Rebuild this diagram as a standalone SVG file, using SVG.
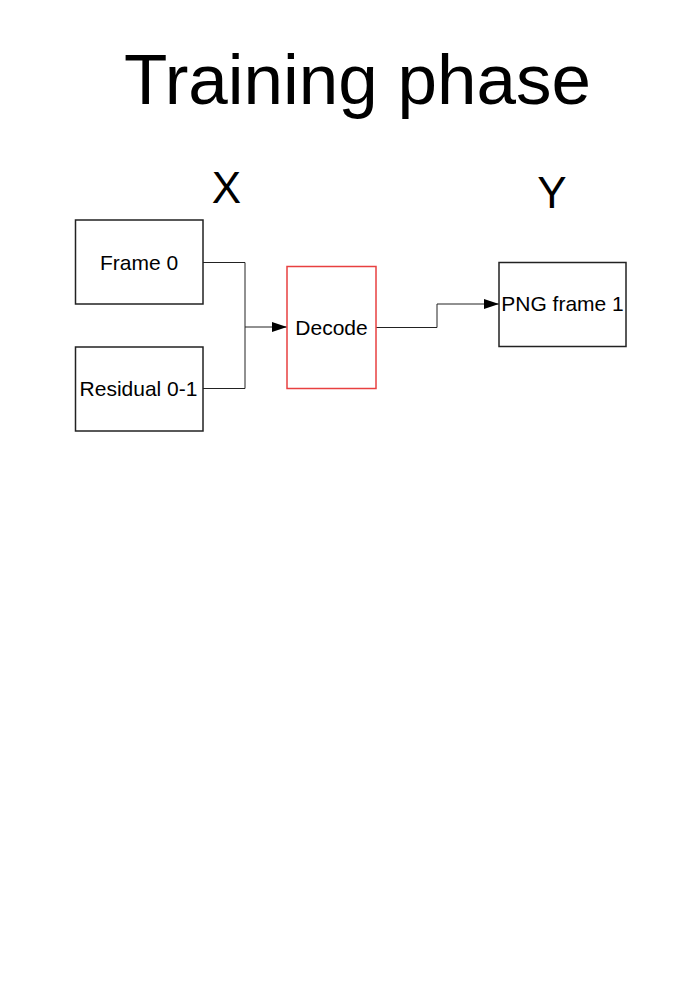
<svg xmlns="http://www.w3.org/2000/svg" width="700" height="990" viewBox="0 0 700 990">
<style>
text{font-family:"Liberation Sans",Arial,sans-serif;fill:#000;text-anchor:middle}
.box{fill:#fff;stroke:#222;stroke-width:1.5}
.red{fill:#fff;stroke:#e84040;stroke-width:1.5}
.lbl{font-size:21px}
.conn{fill:none;stroke:#222;stroke-width:1}
</style>
<defs>
<marker id="arr" markerWidth="15" markerHeight="10" refX="15" refY="5" orient="auto" markerUnits="userSpaceOnUse">
<path d="M0,0 L15,5 L0,10 Z" fill="#000"/>
</marker>
</defs>
<rect width="700" height="990" fill="#fff"/>
<text x="357.5" y="104" font-size="71">Training phase</text>
<text x="226.5" y="203" font-size="44">X</text>
<text x="552" y="208" font-size="44">Y</text>
<g id="connectors">
<path class="conn" d="M203,262.5 H245 V327"/>
<path class="conn" d="M203,388.5 H245 V327" stroke="#666"/>
<path class="conn" d="M245,327 H287" stroke-width="1.8" stroke="#111" marker-end="url(#arr)"/>
<path class="conn" d="M376,327.5 H437 V304 H499" marker-end="url(#arr)"/>
</g>
<g id="frame0">
<rect class="box" x="75.5" y="220" width="127.5" height="84"/>
<text class="lbl" x="139" y="269.5">Frame 0</text>
</g>
<g id="residual">
<rect class="box" x="75.5" y="347" width="127.5" height="84"/>
<text class="lbl" x="138.5" y="395.5">Residual 0-1</text>
</g>
<g id="decode">
<rect class="red" x="287" y="266.5" width="89" height="122"/>
<text class="lbl" x="331.5" y="334.5">Decode</text>
</g>
<g id="png">
<rect class="box" x="499" y="262.5" width="127" height="84"/>
<text class="lbl" x="562.5" y="311">PNG frame 1</text>
</g>
</svg>
